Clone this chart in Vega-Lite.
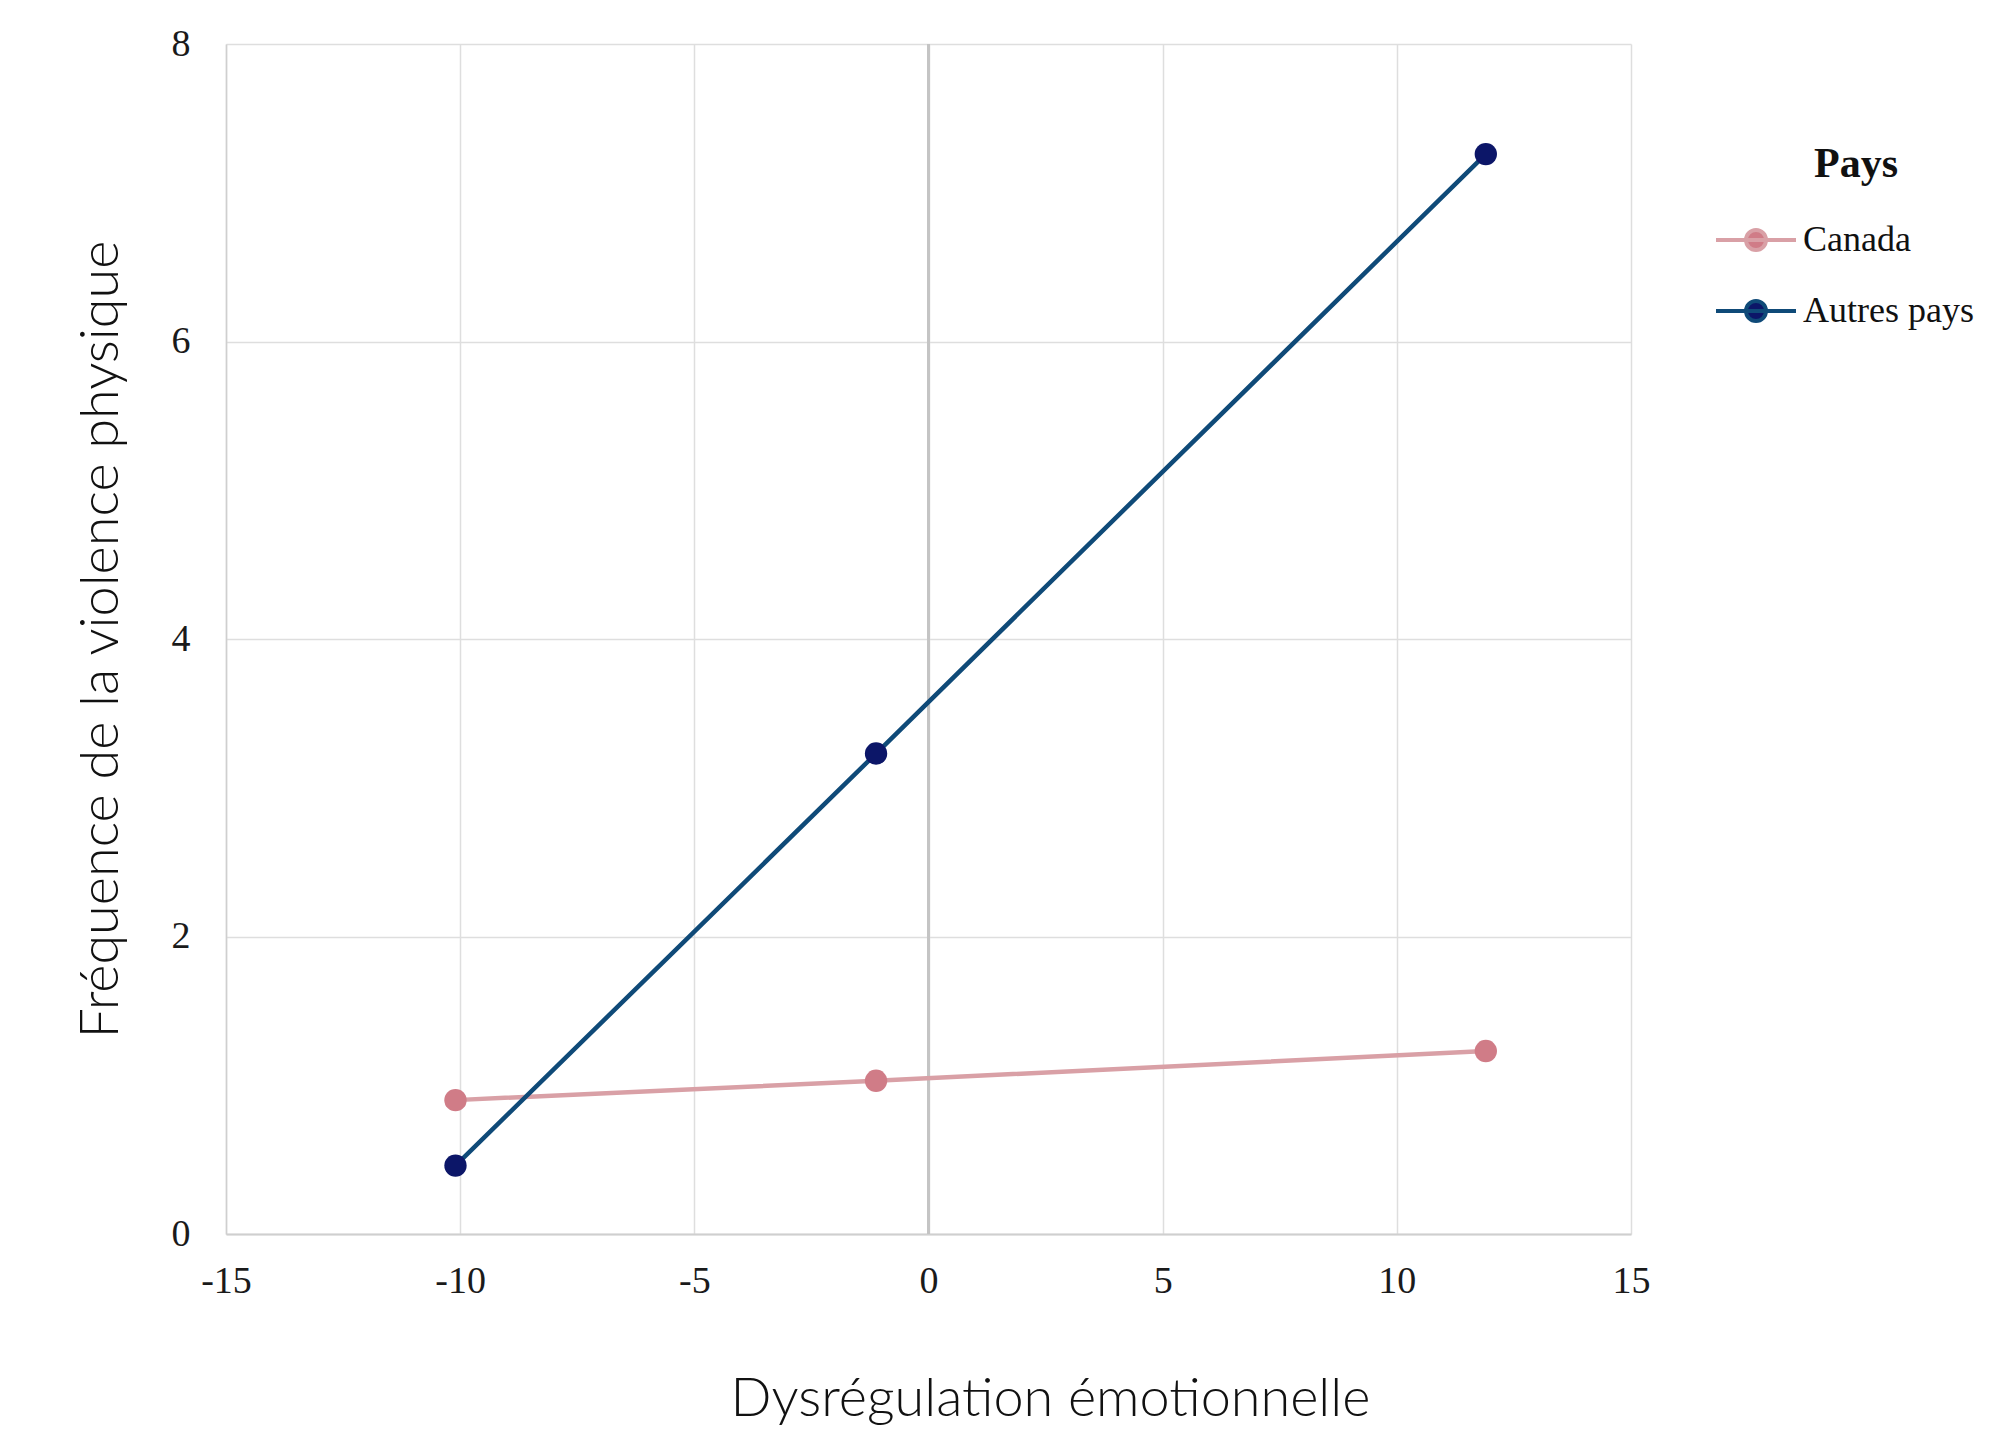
{
  "$schema": "https://vega.github.io/schema/vega-lite/v6.json",
  "width": 1405,
  "height": 1190,
  "autosize": {"type": "none"},
  "padding": {"left": 226, "top": 44, "right": 359, "bottom": 202},
  "background": "white",
  "data": {
    "values": [
      {"dysregulation": -10.1, "violence": 0.90, "pays": "Canada"},
      {"dysregulation": -1.12, "violence": 1.03, "pays": "Canada"},
      {"dysregulation": 11.9, "violence": 1.23, "pays": "Canada"},
      {"dysregulation": -10.1, "violence": 0.46, "pays": "Autres pays"},
      {"dysregulation": -1.12, "violence": 3.23, "pays": "Autres pays"},
      {"dysregulation": 11.9, "violence": 7.26, "pays": "Autres pays"}
    ]
  },
  "config": {
    "view": {"stroke": null},
    "axis": {
      "grid": true,
      "gridColor": "#dedede",
      "gridWidth": 1.5,
      "domainColor": "#cfcfcf",
      "domainWidth": 2,
      "ticks": false,
      "labelFlush": false,
      "labelFont": "Liberation Serif",
      "labelFontSize": 38,
      "labelColor": "#1a1a1a",
      "titleFont": "Lato",
      "titleFontWeight": 300,
      "titleFontSize": 54,
      "titleColor": "#111111"
    }
  },
  "layer": [
    {
      "mark": {"type": "rule", "color": "#c4c4c4", "strokeWidth": 2},
      "encoding": {
        "x": {
          "datum": 0,
          "type": "quantitative",
          "scale": {"domain": [-15, 15], "nice": false, "zero": false},
          "axis": {
            "grid": true,
            "values": [-15, -10, -5, 0, 5, 10, 15],
            "labelExpr": "'' + datum.value",
            "labelPadding": 28,
            "title": "Dysrégulation émotionnelle",
            "titleX": 824,
            "titleY": 165,
            "titleAlign": "center",
            "titleBaseline": "middle"
          }
        }
      }
    },
    {
      "mark": {"type": "line", "strokeWidth": 4.5},
      "encoding": {
        "x": {"field": "dysregulation", "type": "quantitative"},
        "y": {
          "field": "violence",
          "type": "quantitative",
          "scale": {"domain": [0, 8], "nice": false},
          "axis": {
            "grid": true,
            "values": [0, 2, 4, 6, 8],
            "labelExpr": "'' + datum.value",
            "labelPadding": 36,
            "domainWidth": 1.5,
            "title": "Fréquence de la violence physique",
            "titleAngle": -90,
            "titleX": -125,
            "titleY": 595,
            "titleAlign": "center",
            "titleBaseline": "middle"
          }
        },
        "stroke": {
          "field": "pays",
          "type": "nominal",
          "scale": {"domain": ["Canada", "Autres pays"], "range": ["#d9a0a6", "#0f4a78"]},
          "legend": {
            "title": "Pays",
            "orient": "none",
            "legendX": 1512,
            "legendY": 100,
            "padding": 0,
            "titleFont": "Liberation Serif",
            "titleFontSize": 42,
            "titleFontWeight": "bold",
            "titleColor": "#111111",
            "titleAnchor": "middle",
            "titlePadding": 36,
            "labelFont": "Liberation Serif",
            "labelFontSize": 36,
            "labelColor": "#111111",
            "labelOffset": 29,
            "labelLimit": 400,
            "symbolType": "M-4,0L4,0M1,0A1,1,0,1,1,-1,0A1,1,0,1,1,1,0Z",
            "symbolSize": 400,
            "symbolStrokeWidth": 4,
            "rowPadding": 35
          }
        },
        "detail": {"field": "pays"}
      }
    },
    {
      "mark": {"type": "point", "filled": true, "size": 500, "opacity": 1, "shape": "circle"},
      "encoding": {
        "x": {"field": "dysregulation", "type": "quantitative"},
        "y": {"field": "violence", "type": "quantitative"},
        "fill": {
          "field": "pays",
          "type": "nominal",
          "scale": {"domain": ["Canada", "Autres pays"], "range": ["#d07c87", "#0c1668"]},
          "legend": {
            "title": "Pays",
            "orient": "none",
            "legendX": 1512,
            "legendY": 100,
            "padding": 0,
            "titleFont": "Liberation Serif",
            "titleFontSize": 42,
            "titleFontWeight": "bold",
            "titleColor": "#111111",
            "titleAnchor": "middle",
            "titlePadding": 36,
            "labelFont": "Liberation Serif",
            "labelFontSize": 36,
            "labelColor": "#111111",
            "labelOffset": 29,
            "labelLimit": 400,
            "symbolType": "M-4,0L4,0M1,0A1,1,0,1,1,-1,0A1,1,0,1,1,1,0Z",
            "symbolSize": 400,
            "symbolStrokeWidth": 4,
            "rowPadding": 35
          }
        }
      }
    }
  ]
}
